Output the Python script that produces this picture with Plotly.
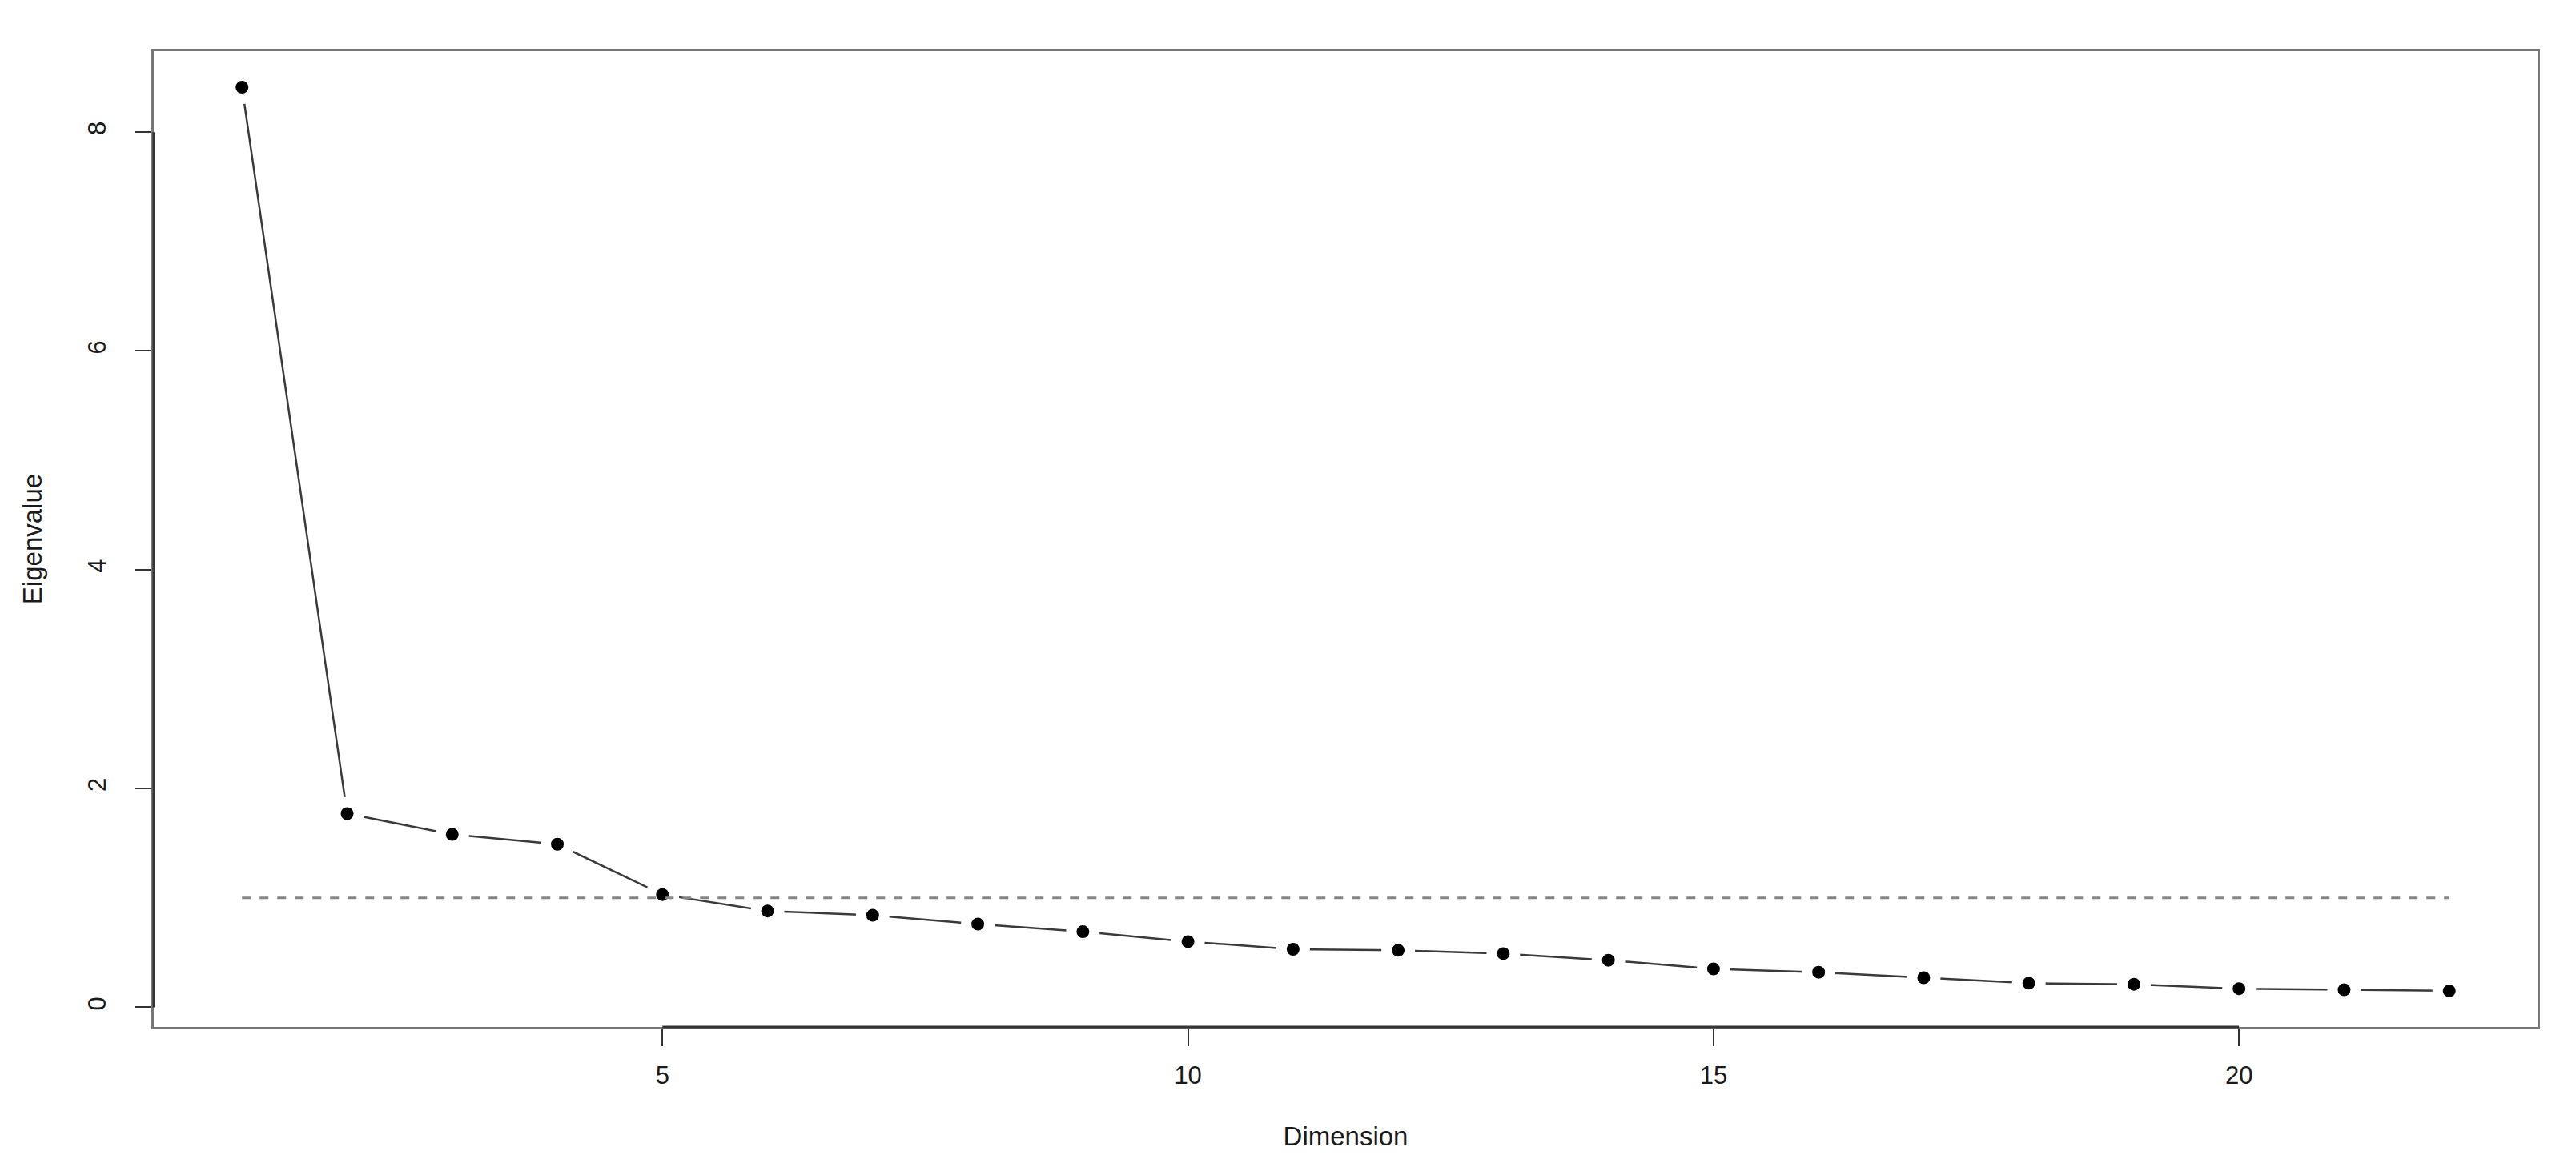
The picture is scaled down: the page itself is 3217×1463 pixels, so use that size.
"""Scree plot: eigenvalue by dimension with the Kaiser (eigenvalue = 1) reference line."""

import plotly.graph_objects as go

dimensions = [1, 2, 3, 4, 5, 6, 7, 8, 9, 10, 11, 12, 13, 14, 15, 16, 17, 18, 19, 20, 21, 22]
eigenvalues = [8.41, 1.77, 1.58, 1.49, 1.03, 0.88, 0.84, 0.76, 0.69, 0.60, 0.53,
               0.52, 0.49, 0.43, 0.35, 0.32, 0.27, 0.22, 0.21, 0.17, 0.16, 0.15]

kaiser_x = [1, 22]
kaiser_y = [1, 1]

x_ticks = [5, 10, 15, 20]
y_ticks = [0, 2, 4, 6, 8]

FONT = "Liberation Sans, Arial, Helvetica, sans-serif"
INK = "#1a1a1a"
LINE_GREY = "#3a3a3a"
BOX_GREY = "#777777"

fig = go.Figure()

# line + points; white marker rim gives the R type="b" gaps around each point
fig.add_trace(
    go.Scatter(
        x=dimensions, y=eigenvalues,
        mode="lines+markers",
        line=dict(color=LINE_GREY, width=2.5),
        marker=dict(color="black", size=29, line=dict(color="white", width=13)),
        name="Eigenvalue",
        hovertemplate="Dimension %{x}<br>Eigenvalue: %{y:.2f}<extra></extra>",
    )
)

fig.add_trace(
    go.Scatter(
        x=kaiser_x, y=kaiser_y,
        mode="lines",
        line=dict(color="#858585", width=3, dash="11px,11px"),
        name="Eigenvalue = 1",
        hoverinfo="skip",
    )
)

# R draws the axis line only between the outer ticks, over the box
fig.add_shape(type="line", xref="x", yref="paper",
              x0=min(x_ticks), x1=max(x_ticks), y0=0, y1=0,
              line=dict(color="#333333", width=3))
fig.add_shape(type="line", xref="paper", yref="y",
              x0=0, x1=0, y0=min(y_ticks), y1=max(y_ticks),
              line=dict(color="#333333", width=3))

axis_common = dict(
    showgrid=False, zeroline=False,
    showline=True, mirror=True, linecolor=BOX_GREY, linewidth=3,
    ticks="outside", ticklen=21, tickwidth=2, tickcolor="#333333",
    tickfont=dict(family=FONT, size=31, color=INK),
    title_font=dict(family=FONT, size=33, color=INK),
)

fig.update_xaxes(
    range=[0.16, 22.84],
    tickvals=x_ticks,
    ticklabelstandoff=10,
    title_text="Dimension",
    title_standoff=48,
    **axis_common,
)
fig.update_yaxes(
    range=[-0.18, 8.74],
    tickvals=y_ticks,
    tickangle=-90,
    ticklabelstandoff=24,
    title_text="Eigenvalue",
    title_standoff=42,
    **axis_common,
)

fig.update_layout(
    width=3217, height=1463,
    margin=dict(l=184, r=56, t=56, b=188),
    showlegend=False,
    paper_bgcolor="white",
    plot_bgcolor="white",
    font=dict(family=FONT, color=INK),
)

fig.write_html("out.html")
